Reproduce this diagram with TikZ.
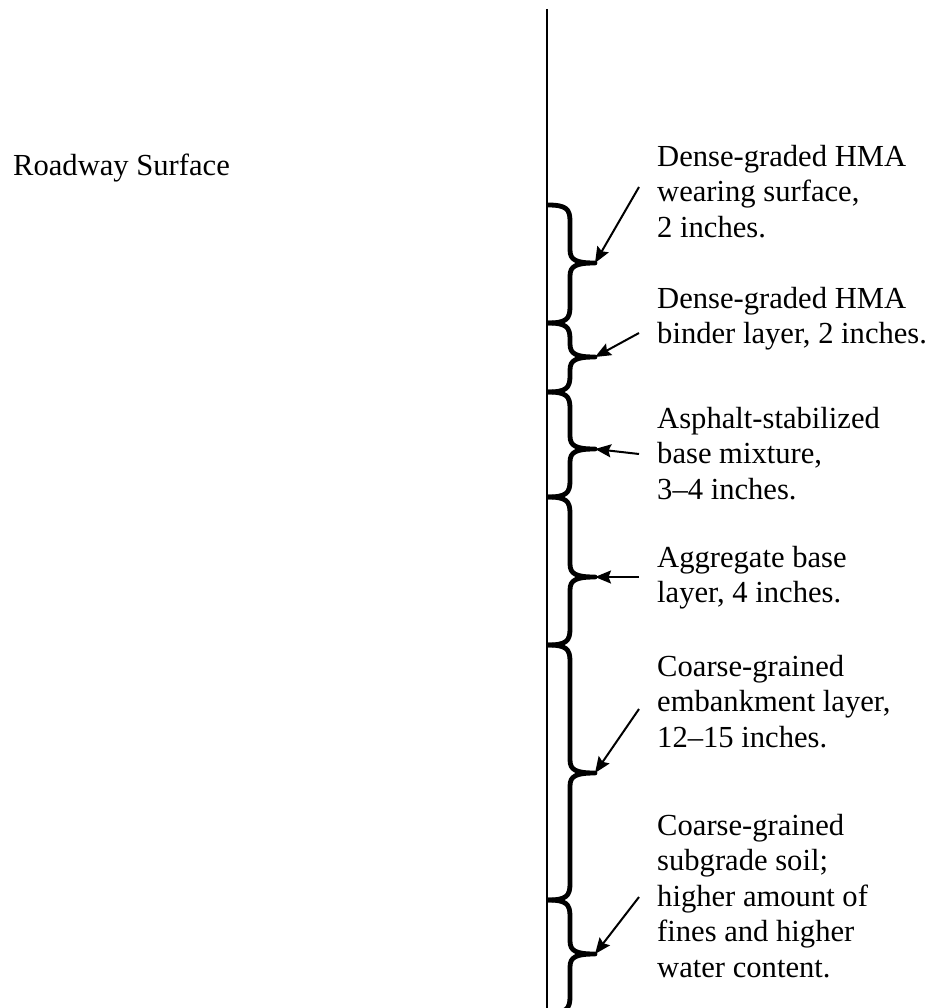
\documentclass[tikz,border=0pt]{standalone}
\usepackage{fontspec}
\setmainfont{Liberation Serif}
\usepackage{tikz}
\usetikzlibrary{
  arrows.meta,
  calc,         % Calculations $...$
}
\def\spinex{570}
\def\tipx{595}
\def\wallx{548}
% Brace of one layer: top, tip, bottom, name of tip
\newcommand{\layerbrace}[4]{
  \draw[my brace] (\wallx,#1) .. controls (566,#1) and (\spinex,#1+4) .. (\spinex,#1+16)
    -- (\spinex,#2-13) .. controls (\spinex,#2-3) and (576,#2) .. (\tipx,#2)
    .. controls (576,#2) and (\spinex,#2+3) .. (\spinex,#2+13)
    -- (\spinex,#3-16) .. controls (\spinex,#3-4) and (566,#3) .. (\wallx,#3);
  \coordinate (#4) at (\tipx,#2);
}
\tikzset{
  my text/.style={
    font=\fontsize{30.6}{35.5}\selectfont,
    inner sep=0pt
  },
  my label/.style={
    my text,
    anchor=north west,
    align=left
  },
  my brace/.style={
    line width=4.8pt,
    line cap=butt,
    line join=round
  },
  my arrow/.style={
    line width=2pt,
    -{Stealth[length=16pt,width=13pt,inset=2.5pt]}
  },
  my wall/.style={
    line width=2pt
  }
}
\begin{document}
\begin{tikzpicture}[x=1pt,y=-1pt]
\path[use as bounding box,clip] (0,0) rectangle (936,1008);
\node[my text,anchor=base west] (road) at (13,176) {Roadway Surface};
\draw[my wall] (546.5,9) -- (546.5,1008);
\layerbrace{205}{263}{323}{tip1}
\layerbrace{323}{357}{392}{tip2}
\layerbrace{392}{449}{497}{tip3}
\layerbrace{497}{577}{645}{tip4}
\layerbrace{645}{773}{900}{tip5}
\layerbrace{900}{954}{1013}{tip6}
\node[my label] (wear)  at (657,145) {Dense-graded HMA\\wearing surface,\\2 inches.};
\node[my label] (bind)  at (657,287) {Dense-graded HMA\\binder layer, 2 inches.};
\node[my label] (asph)  at (657,407) {Asphalt-stabilized\\base mixture,\\3--4 inches.};
\node[my label] (aggr)  at (657,546) {Aggregate base\\layer, 4 inches.};
\node[my label] (emb)   at (657,655) {Coarse-grained\\embankment layer,\\12--15 inches.};
\node[my label] (soil)  at (657,814) {Coarse-grained\\subgrade soil;\\higher amount of\\fines and higher\\water content.};
\coordinate (from1) at (639,187);
\coordinate (from2) at (639,333);
\coordinate (from3) at (639,454);
\coordinate (from4) at (639,577);
\coordinate (from5) at (639,709);
\coordinate (from6) at (639,897);
\foreach \i in {1,...,6}
  \draw[my arrow] (from\i) -- (tip\i);
\end{tikzpicture}
\end{document}
